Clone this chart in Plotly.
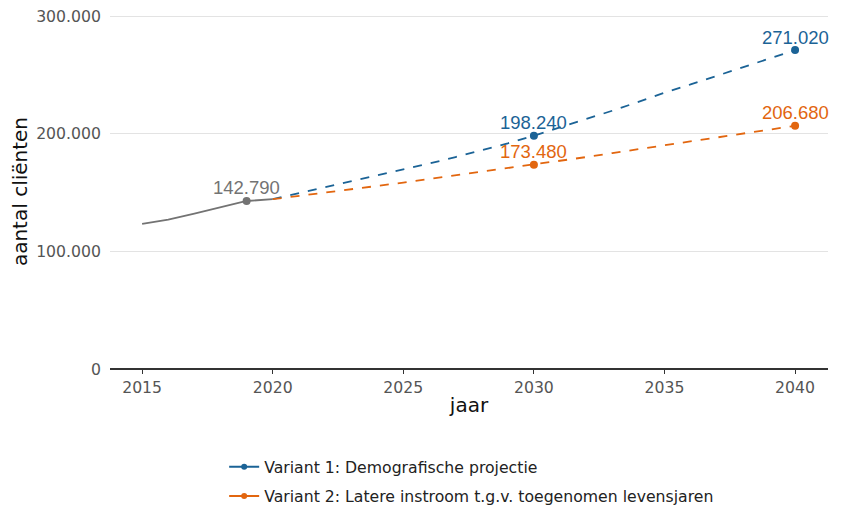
import plotly.graph_objects as go

hist_years = [2015, 2016, 2017, 2018, 2019, 2020]
hist_values = [123300, 127000, 132000, 137500, 142790, 144300]

proj_years = list(range(2020, 2041))
var1_values = [144300, 149300, 154300, 159300, 164300, 169400, 174700, 180100, 185800, 191800,
               198240, 205200, 212300, 219500, 227000, 234800, 241800, 249100, 256400, 263700, 271020]
var2_values = [144300, 147000, 149700, 152500, 155400, 158400, 161500, 164600, 167500, 170500,
               173480, 176800, 180100, 183500, 186900, 190300, 193700, 197100, 200400, 203600, 206680]

label_hist_year = [2019]
label_hist_value = [142790]
label_hist_text = ["142.790"]
label_years = [2030, 2040]
label_var1 = [198240, 271020]
label_var1_text = ["198.240", "271.020"]
label_var2 = [173480, 206680]
label_var2_text = ["173.480", "206.680"]

series_names = ["Variant 1: Demografische projectie",
                "Variant 2: Latere instroom t.g.v. toegenomen levensjaren"]

x_ticks = [2015, 2020, 2025, 2030, 2035, 2040]
y_ticks = [0, 100000, 200000, 300000]
y_tick_text = ["0", "100.000", "200.000", "300.000"]

GREY = "#737373"
BLUE = "#1b6396"
ORANGE = "#e2660f"
LABEL_FONT = "Liberation Sans, Arial, sans-serif"
TICK_SIZE = 15.7

fig = go.Figure()

fig.add_trace(go.Scatter(x=hist_years, y=hist_values, mode="lines",
                         line=dict(color=GREY, width=1.8), showlegend=False, hoverinfo="skip"))
fig.add_trace(go.Scatter(x=proj_years, y=var1_values, mode="lines",
                         line=dict(color=BLUE, width=1.8, dash="dash"), showlegend=False))
fig.add_trace(go.Scatter(x=proj_years, y=var2_values, mode="lines",
                         line=dict(color=ORANGE, width=1.8, dash="dash"), showlegend=False))

for xs, ys, txts, col in [(label_hist_year, label_hist_value, label_hist_text, GREY),
                          (label_years, label_var1, label_var1_text, BLUE),
                          (label_years, label_var2, label_var2_text, ORANGE)]:
    fig.add_trace(go.Scatter(x=xs, y=ys, mode="markers",
                             marker=dict(color=col, size=8), showlegend=False))
    for xv, yv, t in zip(xs, ys, txts):
        fig.add_annotation(x=xv, y=yv, text=t, showarrow=False, xanchor="center",
                           yanchor="middle", yshift=13,
                           font=dict(family=LABEL_FONT, size=18.5, color=col))

# legend entries
fig.add_trace(go.Scatter(x=[None], y=[None], mode="lines+markers", name=series_names[0],
                         legendgroup="a",
                         line=dict(color=BLUE, width=2), marker=dict(color=BLUE, size=6)))
fig.add_trace(go.Scatter(x=[None], y=[None], mode="lines+markers", name=series_names[1],
                         legendgroup="b",
                         line=dict(color=ORANGE, width=2), marker=dict(color=ORANGE, size=6)))

fig.update_layout(
    width=844, height=509,
    margin=dict(l=102, r=24, t=6, b=148, autoexpand=False),
    plot_bgcolor="white", paper_bgcolor="white",
    font=dict(family="DejaVu Sans, sans-serif", size=TICK_SIZE, color="#555555"),
    showlegend=True,
    legend=dict(orientation="v", x=0.159, xanchor="left", xref="paper",
                y=1 - 442 / 509, yanchor="top", yref="container",
                font=dict(family="DejaVu Sans, sans-serif", size=TICK_SIZE, color="#222222"),
                tracegroupgap=6, itemwidth=30),
)
fig.update_xaxes(
    range=[2013.77, 2041.26], tickvals=x_ticks, showgrid=False, zeroline=False,
    showline=False, ticks="outside", ticklen=4, tickcolor="#333333", automargin=False,
    ticklabeloverflow="allow",
    tickfont=dict(size=TICK_SIZE, color="#555555"),
    title=dict(text="jaar", font=dict(size=20, color="#111111"), standoff=2),
)
fig.update_yaxes(
    range=[0, 301700], tickvals=y_ticks, ticktext=y_tick_text, automargin=False,
    ticklabeloverflow="allow",
    showgrid=True, gridcolor="#e3e3e3", gridwidth=1.3,
    zeroline=True, zerolinecolor="#333333", zerolinewidth=2,
    showline=False, ticks="", ticklabelstandoff=8, tickfont=dict(size=TICK_SIZE, color="#555555"),
    title=dict(text="aantal cliënten", font=dict(size=20, color="#111111"), standoff=10),
)

fig.write_html("out.html")
